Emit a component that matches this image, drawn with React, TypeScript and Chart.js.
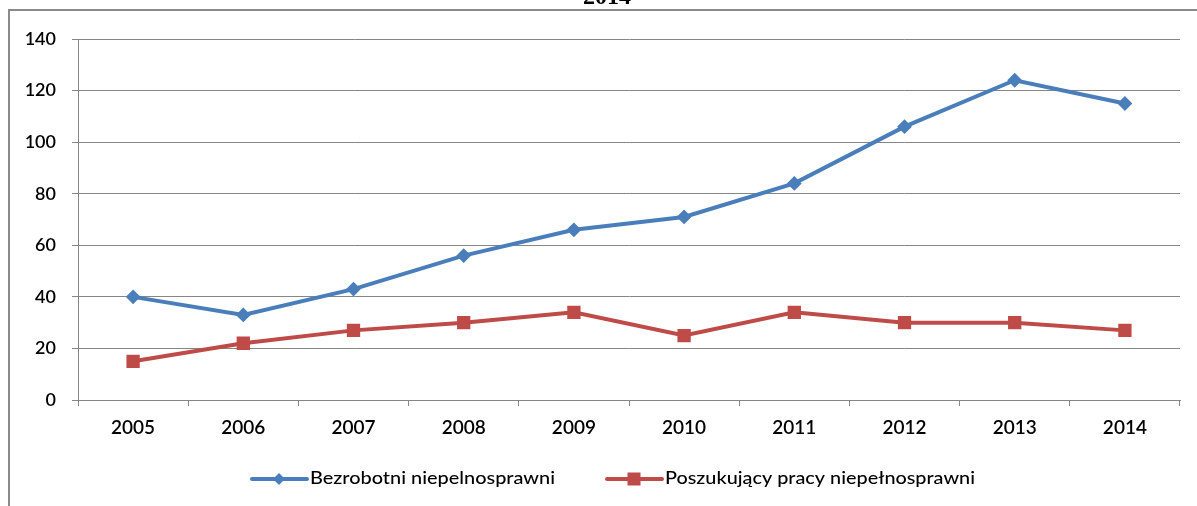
import React, { useEffect, useRef } from "react";
import { Chart, registerables } from "chart.js";

Chart.register(...registerables);

const years = ["2005", "2006", "2007", "2008", "2009", "2010", "2011", "2012", "2013", "2014"];
const bezrobotni = [40, 33, 43, 56, 66, 71, 84, 106, 124, 115];
const poszukujacy = [15, 22, 27, 30, 34, 25, 34, 30, 30, 27];
const seriesNames = ["Bezrobotni niepelnosprawni", "Poszukujący pracy niepełnosprawni"];
const titleText = "2014";

const BLUE = "#4A7EBB";
const RED = "#BE4B48";
const GRID = "#868686";

const framePlugin = {
  id: "frameAndTitle",
  afterDraw(chart: any) {
    const ctx = chart.ctx;
    ctx.save();
    ctx.fillStyle = "#8a8a8a";
    ctx.fillRect(8, 9, 1189, 2);
    ctx.fillRect(8, 9, 2, 497);
    ctx.fillStyle = "#000";
    ctx.font = "bold 24px 'Liberation Serif'";
    ctx.textAlign = "center";
    ctx.textBaseline = "alphabetic";
    ctx.fillText(titleText, 607, 4);
    ctx.restore();
  },
};

const legendPlugin = {
  id: "customLegend",
  afterDraw(chart: any) {
    const ctx = chart.ctx;
    const items = [
      { x0: 252, x1: 307, mx: 279, tx: 310, tw: 245, color: BLUE, style: "rectRot" },
      { x0: 607, x1: 662, mx: 634, tx: 665, tw: 310, color: RED, style: "rect" },
    ];
    const y = 479;
    items.forEach((it, i) => {
      ctx.save();
      ctx.strokeStyle = it.color;
      ctx.lineWidth = 4;
      ctx.lineCap = "round";
      ctx.beginPath();
      ctx.moveTo(it.x0, y);
      ctx.lineTo(it.x1, y);
      ctx.stroke();
      ctx.fillStyle = it.color;
      ctx.beginPath();
      if (it.style === "rectRot") {
        const r = 6;
        ctx.moveTo(it.mx - r, y);
        ctx.lineTo(it.mx, y - r);
        ctx.lineTo(it.mx + r, y);
        ctx.lineTo(it.mx, y + r);
        ctx.closePath();
      } else {
        const s = 6.5;
        ctx.rect(it.mx - s, y - s, 2 * s, 2 * s);
      }
      ctx.fill();
      ctx.font = "500 18px Lato";
      ctx.fillStyle = "#000";
      ctx.textBaseline = "alphabetic";
      ctx.textAlign = "left";
      const text = seriesNames[i];
      const w = ctx.measureText(text).width;
      const sx = it.tw / w;
      ctx.translate(it.tx, 484);
      ctx.scale(sx, 1);
      ctx.fillText(text, 0, 0);
      ctx.restore();
    });
  },
};

export default function App() {
  const ref = useRef<HTMLCanvasElement | null>(null);
  useEffect(() => {
    if (!ref.current) return;
    const chart = new Chart(ref.current, {
      type: "line",
      data: {
        labels: years,
        datasets: [
          {
            label: seriesNames[0],
            data: bezrobotni,
            borderColor: BLUE,
            backgroundColor: BLUE,
            borderWidth: 4,
            pointStyle: "rectRot",
            pointRadius: 6,
            pointBorderWidth: 2,
            pointBorderColor: BLUE,
            pointBackgroundColor: BLUE,
            tension: 0,
          },
          {
            label: seriesNames[1],
            data: poszukujacy,
            borderColor: RED,
            backgroundColor: RED,
            borderWidth: 4,
            pointStyle: "rect",
            pointRadius: 8,
            pointBorderWidth: 2,
            pointBorderColor: RED,
            pointBackgroundColor: RED,
            tension: 0,
          },
        ],
      },
      options: {
        responsive: false,
        animation: false,
        devicePixelRatio: 1,
        layout: { padding: { top: 39, right: 17, left: 0, bottom: 0 } },
        plugins: {
          legend: { display: false },
          title: { display: false },
          tooltip: { enabled: false },
        },
        scales: {
          x: {
            offset: true,
            grid: {
              offset: true,
              drawOnChartArea: false,
              drawTicks: true,
              tickLength: 6,
              color: GRID,
            },
            border: { color: GRID, width: 1 },
            ticks: {
              color: "#000",
              font: { family: "Lato", size: 19, weight: "600" },
              padding: 10,
              maxRotation: 0,
            },
            afterFit(scale: any) {
              scale.height = 106;
            },
          },
          y: {
            min: 0,
            max: 140,
            grid: { color: GRID, tickLength: 6, drawTicks: true },
            border: { color: GRID, width: 1 },
            ticks: {
              stepSize: 20,
              color: "#000",
              font: { family: "Lato", size: 18, weight: "600" },
              padding: 16,
            },
            afterFit(scale: any) {
              scale.width = 78;
            },
          },
        },
      },
      plugins: [framePlugin, legendPlugin],
    });
    return () => chart.destroy();
  }, []);
  return (
    <div style={{ position: "fixed", left: 0, top: 0, width: 1197, height: 506, background: "#fff" }}>
      <canvas ref={ref} width={1197} height={506} style={{ display: "block" }} />
    </div>
  );
}
